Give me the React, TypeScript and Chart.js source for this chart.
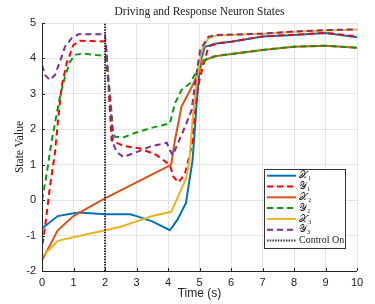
import React, { useEffect, useRef } from "react";
import { Chart, registerables } from "chart.js";

Chart.register(...registerables);

const TITLE = "Driving and Response Neuron States";
const X_TITLE = "Time (s)";
const Y_TITLE = "State Value";
const X_TICKS = [0, 1, 2, 3, 4, 5, 6, 7, 8, 9, 10];
const Y_TICKS = [-2, -1, 0, 1, 2, 3, 4, 5];
const LABELS = ["𝒳₁", "𝒴₁", "𝒳₂", "𝒴₂", "𝒳₃", "𝒴₃", "Control On"];

const x1T = [0, 0.5, 1, 1.2, 2, 2.8, 3, 3.5, 4.06, 4.3, 4.57, 4.78, 4.91, 5.02, 5.17, 5.54, 6, 7, 8, 9, 10];
const x1V = [-0.8, -0.45, -0.37, -0.35, -0.4, -0.4, -0.45, -0.6, -0.85, -0.55, -0.08, 1.13, 2.74, 3.87, 4.33, 4.42, 4.47, 4.62, 4.66, 4.72, 4.6];

const y1T = [0, 0.04, 0.15, 0.25, 0.41, 0.52, 0.62, 0.78, 1.0, 1.2, 2.0, 2.05, 2.21, 2.58, 3.11, 3.64, 4.06, 4.17, 4.33, 4.54, 4.75, 4.91, 5.02, 5.28, 5.54, 6, 7, 8, 9, 10];
const y1V = [-1.25, -1.13, -0.38, 0.37, 1.32, 2.35, 3.2, 3.86, 4.38, 4.5, 4.48, 4.2, 1.69, 1.53, 1.46, 1.27, 0.99, 0.66, 0.5, 0.75, 1.51, 3.0, 3.48, 4.33, 4.43, 4.47, 4.62, 4.67, 4.72, 4.62];

const x2T = [0, 0.5, 1, 1.5, 2, 3, 4, 4.1, 4.22, 4.43, 4.7, 4.96, 5.12, 5.54, 7, 8, 9, 10];
const x2V = [-1.7, -0.85, -0.45, -0.2, 0.05, 0.5, 0.95, 1.0, 1.69, 2.64, 3.1, 3.58, 3.95, 4.07, 4.24, 4.33, 4.36, 4.3];

const y2T = [0, 0.15, 0.31, 0.47, 0.57, 0.73, 0.89, 1.05, 1.26, 2.0, 2.16, 2.26, 2.32, 2.58, 2.9, 3.43, 4.06, 4.22, 4.43, 4.7, 4.96, 5.28, 5.54, 7, 8, 9, 10];
const y2V = [0, 0.75, 1.69, 2.45, 2.92, 3.48, 3.91, 4.1, 4.14, 4.07, 3.01, 1.88, 1.79, 1.77, 1.88, 2.03, 2.17, 2.73, 3.11, 3.3, 3.72, 4.03, 4.07, 4.24, 4.33, 4.36, 4.3];

const x3T = [0, 0.5, 1, 2, 2.5, 3, 3.5, 4.1, 4.57, 4.68, 4.78, 4.91, 5.07, 5.28, 5.54, 7, 8, 9, 10];
const x3V = [-1.6, -1.15, -1.05, -0.85, -0.75, -0.6, -0.45, -0.33, 0.6, 1.13, 2.26, 3.39, 4.24, 4.57, 4.65, 4.7, 4.75, 4.79, 4.82];

const y3T = [0, 0.1, 0.25, 0.41, 0.57, 0.73, 0.94, 1.15, 2.0, 2.16, 2.26, 2.37, 2.58, 2.9, 3.43, 3.96, 4.06, 4.15, 4.27, 4.54, 4.75, 4.86, 5.02, 5.28, 5.54, 7, 8, 9, 10];
const y3V = [3.81, 3.53, 3.39, 3.53, 3.91, 4.33, 4.57, 4.68, 4.68, 2.82, 1.6, 1.36, 1.22, 1.32, 1.51, 1.62, 1.41, 1.27, 1.51, 2.07, 2.54, 3.3, 4.24, 4.61, 4.66, 4.7, 4.76, 4.8, 4.82];

const ctrlT = [2, 2];
const ctrlV = [-2, 5];

const COLORS = ["#0072BD", "#FF0000", "#D95319", "#0A9A0A", "#EDB120", "#7E2F8E", "#333333"];
const DASHES: number[][] = [[], [6, 4], [], [6, 4], [], [6, 4], [1.5, 1.2]];

const zip = (t: number[], v: number[]) => t.map((x, i) => ({ x, y: v[i] }));

const SERIES = [
  zip(x1T, x1V),
  zip(y1T, y1V),
  zip(x2T, x2V),
  zip(y2T, y2V),
  zip(x3T, x3V),
  zip(y3T, y3V),
  zip(ctrlT, ctrlV),
];

const decorPlugin = {
  id: "decor",
  afterDraw(chart: any) {
    const { ctx, chartArea } = chart;
    const { left, right, top, bottom } = chartArea;
    const xs = chart.scales.x;
    const ys = chart.scales.y;
    ctx.save();
    ctx.strokeStyle = "#262626";
    ctx.lineWidth = 1;
    ctx.beginPath();
    ctx.moveTo(left + 0.5, top);
    ctx.lineTo(left + 0.5, bottom + 0.5);
    ctx.lineTo(right, bottom + 0.5);
    ctx.stroke();
    ctx.beginPath();
    X_TICKS.forEach((t) => {
      const px = Math.round(xs.getPixelForValue(t)) + 0.5;
      ctx.moveTo(px, bottom);
      ctx.lineTo(px, bottom - 3);
    });
    Y_TICKS.forEach((t) => {
      const py = Math.round(ys.getPixelForValue(t)) + 0.5;
      ctx.moveTo(left, py);
      ctx.lineTo(left + 3, py);
    });
    ctx.stroke();

    ctx.fillStyle = "#222";
    ctx.textAlign = "center";
    ctx.textBaseline = "middle";
    ctx.font = "11.5px 'Liberation Serif', 'DejaVu Serif', serif";
    ctx.fillText(TITLE, (left + right) / 2, 12);
    ctx.font = "12px 'Liberation Sans', Arial, sans-serif";
    ctx.fillText(X_TITLE, (left + right) / 2, 294);
    ctx.save();
    ctx.translate(20, (top + bottom) / 2);
    ctx.rotate(-Math.PI / 2);
    ctx.font = "11.5px 'Liberation Serif', 'DejaVu Serif', serif";
    ctx.fillText(Y_TITLE, 0, 0);
    ctx.restore();

    const bx = 264, by = 169, bw = 81, bh = 79;
    ctx.fillStyle = "#ffffff";
    ctx.fillRect(bx, by, bw, bh);
    ctx.strokeStyle = "#333";
    ctx.lineWidth = 1;
    ctx.strokeRect(bx + 0.5, by + 0.5, bw, bh);
    LABELS.forEach((lab, i) => {
      const y = 175.7 + i * 10.8;
      ctx.beginPath();
      ctx.strokeStyle = COLORS[i];
      ctx.lineWidth = 2;
      ctx.setLineDash(DASHES[i]);
      ctx.moveTo(267, y);
      ctx.lineTo(296, y);
      ctx.stroke();
      ctx.setLineDash([]);
      ctx.fillStyle = "#222";
      ctx.textAlign = "left";
      ctx.textBaseline = "middle";
      ctx.font = "10px 'Liberation Serif', 'DejaVu Serif', serif";
      ctx.fillText(lab, 299, y);
    });
    ctx.restore();
  },
};

export default function App() {
  const ref = useRef<HTMLCanvasElement | null>(null);
  useEffect(() => {
    if (!ref.current) return;
    const chart = new Chart(ref.current, {
      type: "line",
      data: {
        datasets: SERIES.map((d, i) => ({
          label: LABELS[i],
          data: d,
          borderColor: COLORS[i],
          backgroundColor: COLORS[i],
          borderWidth: 2,
          borderDash: DASHES[i],
          pointRadius: 0,
          tension: 0,
          fill: false,
          order: 10 - i,
        })),
      },
      options: {
        responsive: false,
        animation: false,
        layout: { padding: { top: 23, right: 18, left: 0, bottom: 0 } },
        plugins: {
          legend: { display: false },
          title: { display: false },
          tooltip: { enabled: false },
        },
        scales: {
          x: {
            type: "linear",
            min: 0,
            max: 10,
            afterFit: (s: any) => {
              s.height = 33;
            },
            afterBuildTicks: (s: any) => {
              s.ticks = X_TICKS.map((v) => ({ value: v }));
            },
            grid: { color: "#e3e3e3", drawTicks: false, lineWidth: 1 },
            border: { display: false },
            ticks: {
              padding: 5,
              color: "#222",
              font: { family: "'Liberation Sans', Arial, sans-serif", size: 11 },
              maxRotation: 0,
            },
          },
          y: {
            type: "linear",
            min: -2,
            max: 5,
            afterFit: (s: any) => {
              s.width = 42;
            },
            afterBuildTicks: (s: any) => {
              s.ticks = Y_TICKS.map((v) => ({ value: v }));
            },
            grid: { color: "#e3e3e3", drawTicks: false, lineWidth: 1 },
            border: { display: false },
            ticks: {
              padding: 6,
              color: "#222",
              font: { family: "'Liberation Sans', Arial, sans-serif", size: 11 },
            },
          },
        },
      },
      plugins: [decorPlugin],
    });
    return () => chart.destroy();
  }, []);
  return (
    <div style={{ position: "fixed", left: 0, top: 0, width: 375, height: 304, background: "#fff" }}>
      <canvas ref={ref} width={375} height={304} style={{ width: 375, height: 304 }} />
    </div>
  );
}
